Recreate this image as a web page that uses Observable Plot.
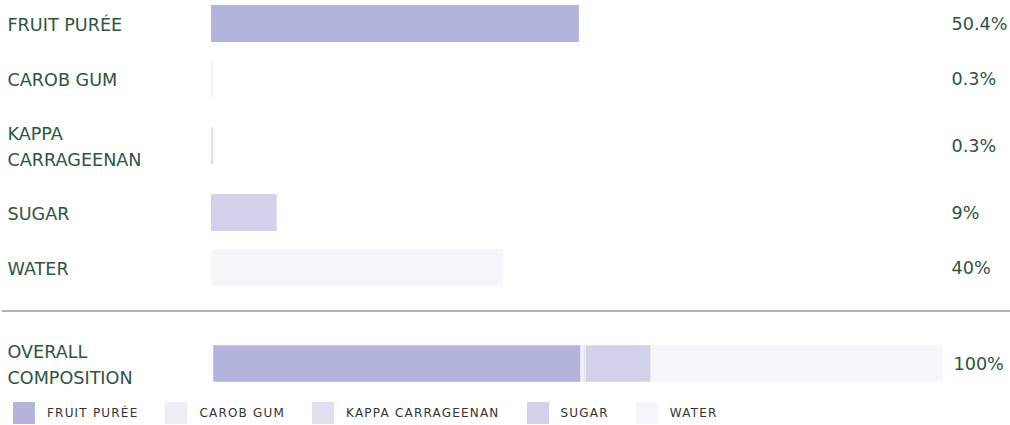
<!DOCTYPE html>
<html><head><meta charset="utf-8">
<script src="https://cdn.jsdelivr.net/npm/d3@7"></script>
<script src="https://cdn.jsdelivr.net/npm/@observablehq/plot@0.6"></script>
<style>
body{margin:0;background:#fff;font-family:"DejaVu Sans",sans-serif;}
#chart{width:1010px;padding-top:5px;}
.rows{display:flex;flex-direction:column;gap:18px;}
.sep{height:2px;background:#a9b7ad;margin:24px 0 21px 2px;}
.lg-swatches{font-family:"DejaVu Sans",sans-serif !important;font-size:12px !important;letter-spacing:1.2px;color:#333;margin:8px 0 0 13px !important;}
.lg-swatches-wrap{min-height:22px !important;}
.lg-swatch{margin-right:27px !important;}
.lg-swatch svg{margin-right:12px !important;}
</style></head><body><div id="chart"></div>
<script>
const ingredients = ["FRUIT PURÉE", "CAROB GUM", "KAPPA CARRAGEENAN", "SUGAR", "WATER"];
const percentages = [50.4, 0.3, 0.3, 9, 40];
const valueLabels = ["50.4%", "0.3%", "0.3%", "9%", "40%"];
const colors = ["#b3b4dd", "#eeeef7", "#e1e0f0", "#d1d1e9", "#f6f5fa"];
const overallLabel = "OVERALL COMPOSITION";
const overallValueLabel = "100%";

const textColor = "#2d5540";
const FONT = 17.6;
const ctx = document.createElement("canvas").getContext("2d");
ctx.font = `${FONT}px "DejaVu Sans"`;
const rowHeight = (label) => ctx.measureText(label).width > 190 ? 61 : 37;

function rowPlot(label, data, valueLabel, range) {
  const h = rowHeight(label);
  const inset = (h - 37) / 2;
  return Plot.plot({
    width: 1010, height: h, margin: 0,
    style: {fontFamily: "DejaVu Sans", fontSize: FONT + "px", color: textColor, background: "transparent"},
    x: {domain: [0, 100], range, axis: null},
    color: {domain: ingredients, range: colors},
    marks: [
      Plot.barX(data, {x: "value", fill: "name", insetTop: inset, insetBottom: inset,
        stroke: data.length > 1 ? "white" : null, strokeWidth: 0.5}),
      Plot.text([label], {frameAnchor: "left", dx: 7, dy: -1, text: d => d, lineWidth: 10, lineHeight: 1.47,
        fill: textColor, fontSize: FONT}),
      Plot.text([valueLabel], {x: () => 100, dx: 10, text: d => d, textAnchor: "start",
        fill: textColor, fontSize: FONT})
    ]
  });
}

const chart = document.getElementById("chart");
const rows = document.createElement("div");
rows.className = "rows";
ingredients.forEach((name, i) => {
  rows.appendChild(rowPlot(name, [{name, value: percentages[i]}], valueLabels[i], [211, 941]));
});
chart.appendChild(rows);

const sep = document.createElement("div");
sep.className = "sep";
chart.appendChild(sep);

const overallData = ingredients.map((name, i) => ({name, value: percentages[i]}));
chart.appendChild(rowPlot(overallLabel, overallData, overallValueLabel, [213, 943]));

chart.appendChild(Plot.legend({
  color: {domain: ingredients, range: colors},
  legend: "swatches", swatchSize: 22, className: "lg"
}));
</script>
</body></html>
